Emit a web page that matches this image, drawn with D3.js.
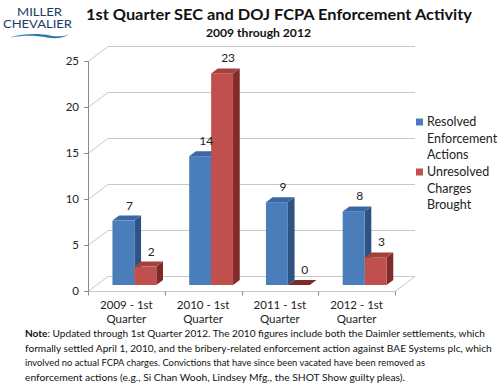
<!DOCTYPE html>
<html><head><meta charset="utf-8">
<script src="https://cdn.jsdelivr.net/npm/d3@7"></script>
<style>
html,body{margin:0;padding:0;background:#fff;}
svg{display:block;}
text{font-family:Lato,"Noto Sans",sans-serif;}
</style></head>
<body>
<script>
const categories = ["2009 - 1st|Quarter","2010 - 1st|Quarter","2011 - 1st|Quarter","2012 - 1st|Quarter"];
const seriesNames = ["Resolved|Enforcement|Actions","Unresolved|Charges|Brought"];
const resolved = [7,14,9,8];
const unresolved = [2,23,0,3];
const yTicks = [0,5,10,15,20,25];
const titleText = "1st Quarter SEC and DOJ FCPA Enforcement Activity";
const subtitleText = "2009 through 2012";
const noteLines = [
 "Updated through 1st Quarter 2012. The 2010 figures include both the Daimler settlements, which",
 "formally settled April 1, 2010, and the bribery-related enforcement action against BAE Systems plc, which",
 "involved no actual FCPA charges. Convictions that have since been vacated have been removed as",
 "enforcement actions (e.g., Si Chan Wooh, Lindsey Mfg., the SHOT Show guilty pleas)."
];

const W=500,H=383;
const svg=d3.select("body").append("svg").attr("width",W).attr("height",H);

// geometry
const FX0=88,FX1=395;
const y=d3.scaleLinear().domain([0,25]).range([291,61]);
const x0=d3.scaleBand().domain(categories).range([FX0,FX1]);
const D={x:20,y:-15};        // full depth vector
const barOff={x:8,y:-6};     // bar plane offset
const barDepth={x:6.7,y:-5}; // bar thickness
const bw=x0.bandwidth()/3.5;
const x1=d3.scaleBand().domain([0,1]).range([0,2*bw]);
const grid="#c8c8c8";

// Logo
const logo=svg.append("g");
logo.append("text").attr("x",17).attr("y",15.7).attr("fill","#1d3b66").attr("font-size",11)
  .attr("font-family","'Liberation Sans',sans-serif")
  .attr("textLength",45).attr("lengthAdjust","spacingAndGlyphs").text("MILLER");
logo.append("text").attr("x",3).attr("y",28.3).attr("fill","#1d3b66").attr("font-size",11)
  .attr("font-family","'Liberation Sans',sans-serif")
  .attr("textLength",69).attr("lengthAdjust","spacingAndGlyphs").text("CHEVALIER");
logo.append("path").attr("d","M10,37.5 C25,33 40,33.5 50,35.5 C58,37 63,36.5 69,34.5 C62,38.5 55,39 47,37.5 C36,35.5 24,35 10,37.5 Z")
  .attr("fill","#2b78ad");

// Title
svg.append("text").attr("x",86).attr("y",20).attr("font-size",14.5).attr("font-weight","bold").attr("fill","#111")
  .attr("textLength",386).attr("lengthAdjust","spacingAndGlyphs").text(titleText);
svg.append("text").attr("x",206).attr("y",37).attr("font-size",11).attr("font-weight","bold").attr("fill","#111")
  .attr("textLength",105).attr("lengthAdjust","spacingAndGlyphs").text(subtitleText);

// gridlines: side wall diagonals and back wall
const gg=svg.append("g").attr("stroke",grid).attr("stroke-width",1).attr("fill","none");
yTicks.forEach(v=>{
  const yy=Math.round(y(v))+0.5;
  gg.append("path").attr("d",`M${FX0},${yy} L${FX0+D.x},${yy+D.y} L${FX1+D.x},${yy+D.y}`);
});
// floor
const y0=Math.round(y(0))+0.5;
gg.append("path").attr("d",`M${FX0},${y0} L${FX1},${y0} L${FX1+D.x},${y0+D.y}`);

// y axis
const yAxis=svg.append("g").attr("transform",`translate(${FX0},0)`)
  .call(d3.axisLeft(y).tickValues(yTicks).tickSize(4).tickPadding(5).tickFormat(d3.format("d")));
yAxis.select(".domain").attr("stroke","#8a8a8a");
yAxis.selectAll(".tick line").attr("stroke","#8a8a8a");
yAxis.selectAll(".tick text").attr("font-family","Lato,sans-serif").attr("font-size",11.5).attr("fill","#222");

// category ticks and labels
const cg=svg.append("g");
const bounds=[FX0].concat(categories.map(c=>x0(c)+x0.bandwidth()));
bounds.forEach(b=>{
  const bx=Math.round(b)+0.5;
  cg.append("line").attr("x1",bx).attr("x2",bx).attr("y1",y0).attr("y2",y0+4).attr("stroke","#8a8a8a");
});
categories.forEach(c=>{
  const cx=x0(c)+x0.bandwidth()/2;
  const parts=c.split("|");
  parts.forEach((p,i)=>{
    cg.append("text").attr("x",cx).attr("y",308.5+i*14).attr("text-anchor","middle")
      .attr("font-size",11.5).attr("fill","#222").text(p);
  });
});

// bars
const colors=[{front:"#4a7ebb",top:"#3b67a3",side:"#2e5283"},{front:"#c0504d",top:"#a4403d",side:"#7f2b29"}];
const data=[resolved,unresolved];
const bg=svg.append("g");
categories.forEach((c,i)=>{
  const gx=x0(c)+0.75*bw+barOff.x;
  [0,1].forEach(s=>{
    const v=data[s][i];
    const bx=gx+x1(s), w=x1.bandwidth();
    const yb=y(0)+barOff.y, yt=y(v)+barOff.y;
    const col=colors[s];
    if(v>0){
      bg.append("path").attr("d",`M${bx+w},${yt} L${bx+w+barDepth.x},${yt+barDepth.y} L${bx+w+barDepth.x},${yb+barDepth.y} L${bx+w},${yb} Z`).attr("fill",col.side);
      bg.append("rect").attr("x",bx).attr("y",yt).attr("width",w).attr("height",yb-yt).attr("fill",col.front);
    }
    bg.append("path").attr("d",`M${bx},${yt} L${bx+barDepth.x},${yt+barDepth.y} L${bx+w+barDepth.x},${yt+barDepth.y} L${bx+w},${yt} Z`).attr("fill",v>0?col.top:col.side);
    svg.append("text").attr("x",bx+w/2+6).attr("y",yt-11).attr("text-anchor","middle")
      .attr("font-size",12).attr("fill","#222").text(v);
  });
});

// legend
const lg=svg.append("g");
seriesNames.forEach((n,s)=>{
  const by=126+s*50;
  lg.append("rect").attr("x",416).attr("y",by-7.5).attr("width",7).attr("height",7).attr("fill",colors[s].front);
  n.split("|").forEach((p,j)=>{
    lg.append("text").attr("x",427).attr("y",by+j*16.5).attr("font-size",12.5).attr("fill","#222").text(p);
  });
});

// note
const nw=[460,466.7,400,380];
noteLines.forEach((l,i)=>{
  const t=svg.append("text").attr("x",25).attr("y",337+i*14.7).attr("font-size",10.2).attr("fill","#111")
    .attr("textLength",nw[i]).attr("lengthAdjust","spacingAndGlyphs");
  if(i===0){
    t.append("tspan").attr("font-weight","bold").text("Note");
    t.append("tspan").text(": "+l);
  } else t.text(l);
});
</script>
</body></html>
